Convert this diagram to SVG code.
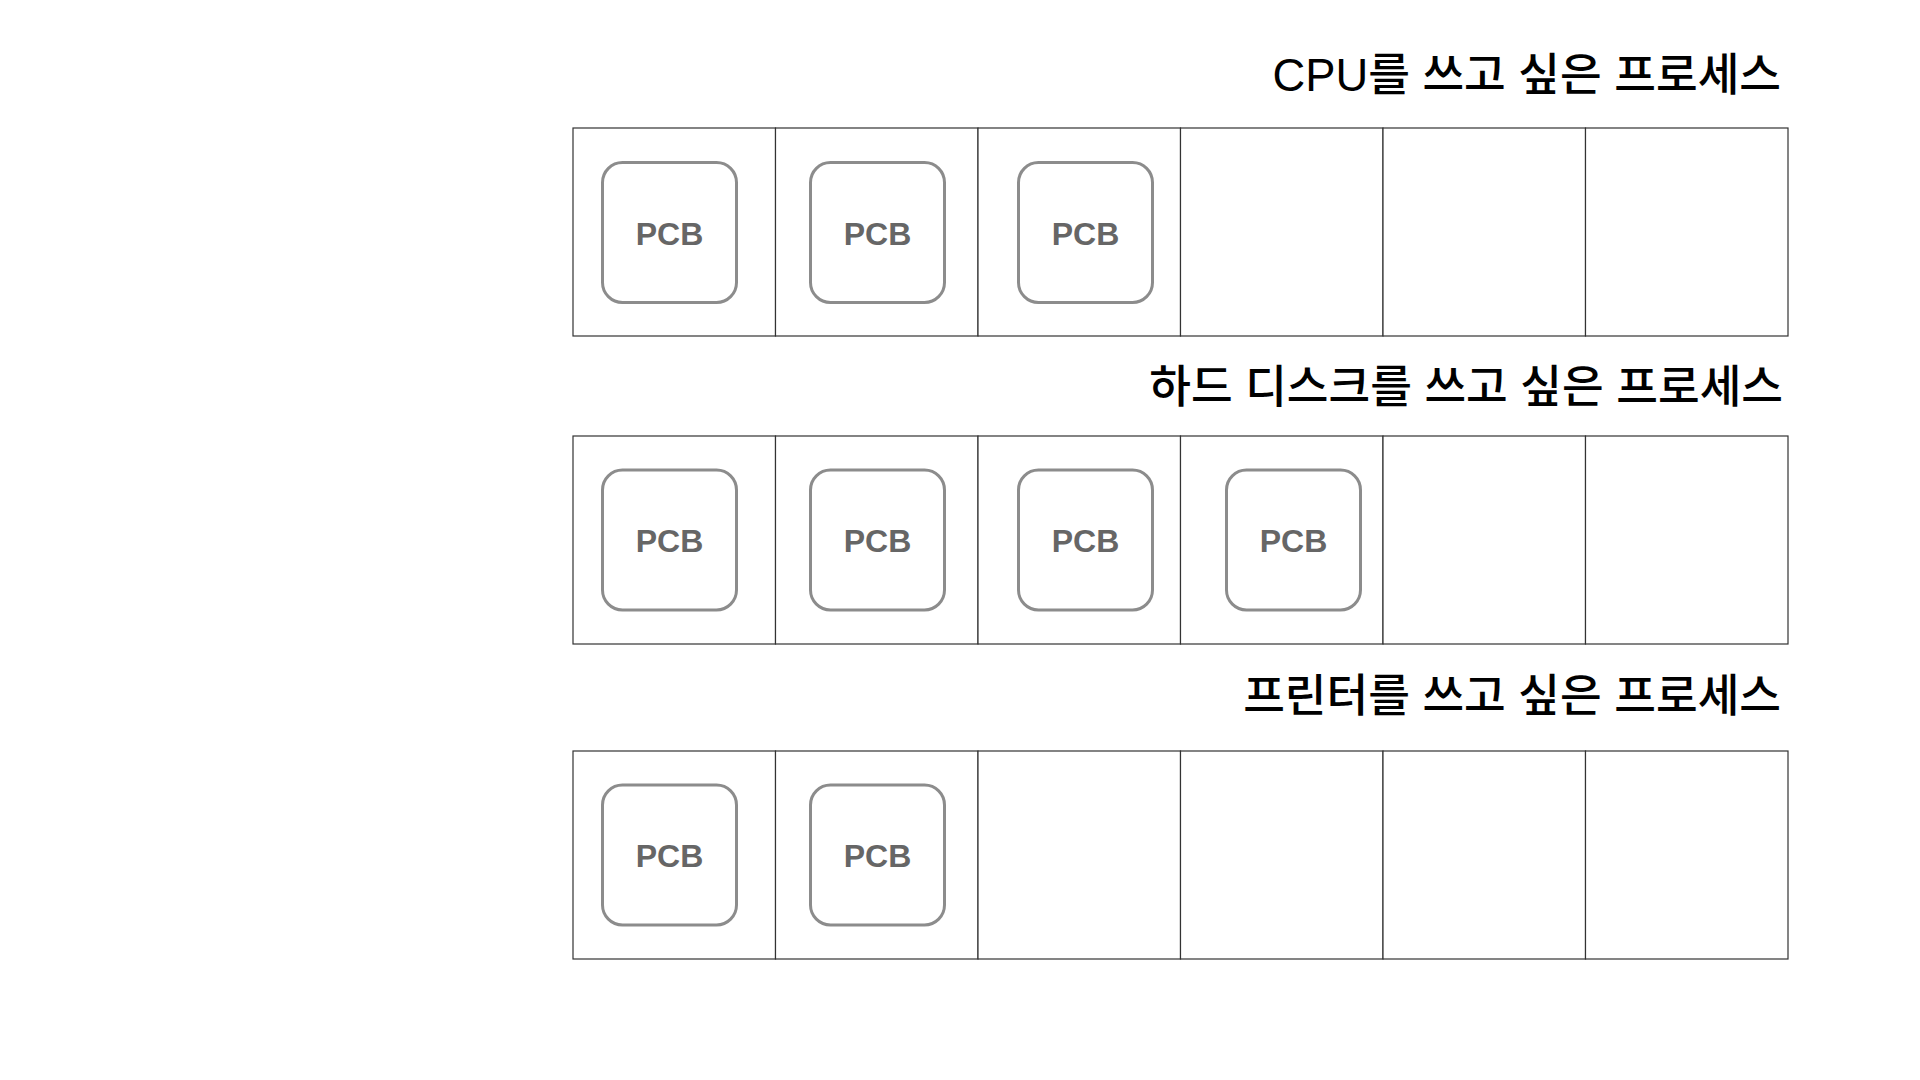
<svg xmlns="http://www.w3.org/2000/svg" width="1920" height="1080" viewBox="0 0 1920 1080">
<style>
.title{font-family:"Liberation Sans","Noto Sans CJK KR",sans-serif;font-size:45.3px;font-weight:500;fill:#000;text-anchor:end}
.cell{fill:#fff;stroke:#333;stroke-width:1.2}
.pcb{fill:#fff;stroke:#8c8c8c;stroke-width:3}
.pcbt{font-family:"Liberation Sans",Arial,sans-serif;font-size:32px;font-weight:bold;fill:#666;text-anchor:middle}
</style>
<rect width="1920" height="1080" fill="#fff"/>
<g id="title-cpu"><text class="title" x="1781" y="91">CPU를 쓰고 싶은 프로세스</text></g>
<g id="title-disk"><text class="title" x="1783" y="403">하드 디스크를 쓰고 싶은 프로세스</text></g>
<g id="title-printer"><text class="title" x="1781" y="712">프린터를 쓰고 싶은 프로세스</text></g>

<g id="queue-cpu">
<rect class="cell" x="573" y="128" width="202.5" height="208"/>
<rect class="cell" x="775.5" y="128" width="202.5" height="208"/>
<rect class="cell" x="978" y="128" width="202.5" height="208"/>
<rect class="cell" x="1180.5" y="128" width="202.5" height="208"/>
<rect class="cell" x="1383" y="128" width="202.5" height="208"/>
<rect class="cell" x="1585.5" y="128" width="202.5" height="208"/>
</g>
<g id="queue-disk">
<rect class="cell" x="573" y="436" width="202.5" height="208"/>
<rect class="cell" x="775.5" y="436" width="202.5" height="208"/>
<rect class="cell" x="978" y="436" width="202.5" height="208"/>
<rect class="cell" x="1180.5" y="436" width="202.5" height="208"/>
<rect class="cell" x="1383" y="436" width="202.5" height="208"/>
<rect class="cell" x="1585.5" y="436" width="202.5" height="208"/>
</g>
<g id="queue-printer">
<rect class="cell" x="573" y="751" width="202.5" height="208"/>
<rect class="cell" x="775.5" y="751" width="202.5" height="208"/>
<rect class="cell" x="978" y="751" width="202.5" height="208"/>
<rect class="cell" x="1180.5" y="751" width="202.5" height="208"/>
<rect class="cell" x="1383" y="751" width="202.5" height="208"/>
<rect class="cell" x="1585.5" y="751" width="202.5" height="208"/>
</g>

<g id="pcb-cpu-1"><rect class="pcb" x="602.5" y="162.5" width="134" height="140" rx="20"/><text class="pcbt" x="669.5" y="244.5">PCB</text></g>
<g id="pcb-cpu-2"><rect class="pcb" x="810.5" y="162.5" width="134" height="140" rx="20"/><text class="pcbt" x="877.5" y="244.5">PCB</text></g>
<g id="pcb-cpu-3"><rect class="pcb" x="1018.5" y="162.5" width="134" height="140" rx="20"/><text class="pcbt" x="1085.5" y="244.5">PCB</text></g>

<g id="pcb-disk-1"><rect class="pcb" x="602.5" y="470" width="134" height="140" rx="20"/><text class="pcbt" x="669.5" y="552">PCB</text></g>
<g id="pcb-disk-2"><rect class="pcb" x="810.5" y="470" width="134" height="140" rx="20"/><text class="pcbt" x="877.5" y="552">PCB</text></g>
<g id="pcb-disk-3"><rect class="pcb" x="1018.5" y="470" width="134" height="140" rx="20"/><text class="pcbt" x="1085.5" y="552">PCB</text></g>
<g id="pcb-disk-4"><rect class="pcb" x="1226.5" y="470" width="134" height="140" rx="20"/><text class="pcbt" x="1293.5" y="552">PCB</text></g>

<g id="pcb-printer-1"><rect class="pcb" x="602.5" y="785" width="134" height="140" rx="20"/><text class="pcbt" x="669.5" y="867">PCB</text></g>
<g id="pcb-printer-2"><rect class="pcb" x="810.5" y="785" width="134" height="140" rx="20"/><text class="pcbt" x="877.5" y="867">PCB</text></g>
<g id="connectors"/>
</svg>
